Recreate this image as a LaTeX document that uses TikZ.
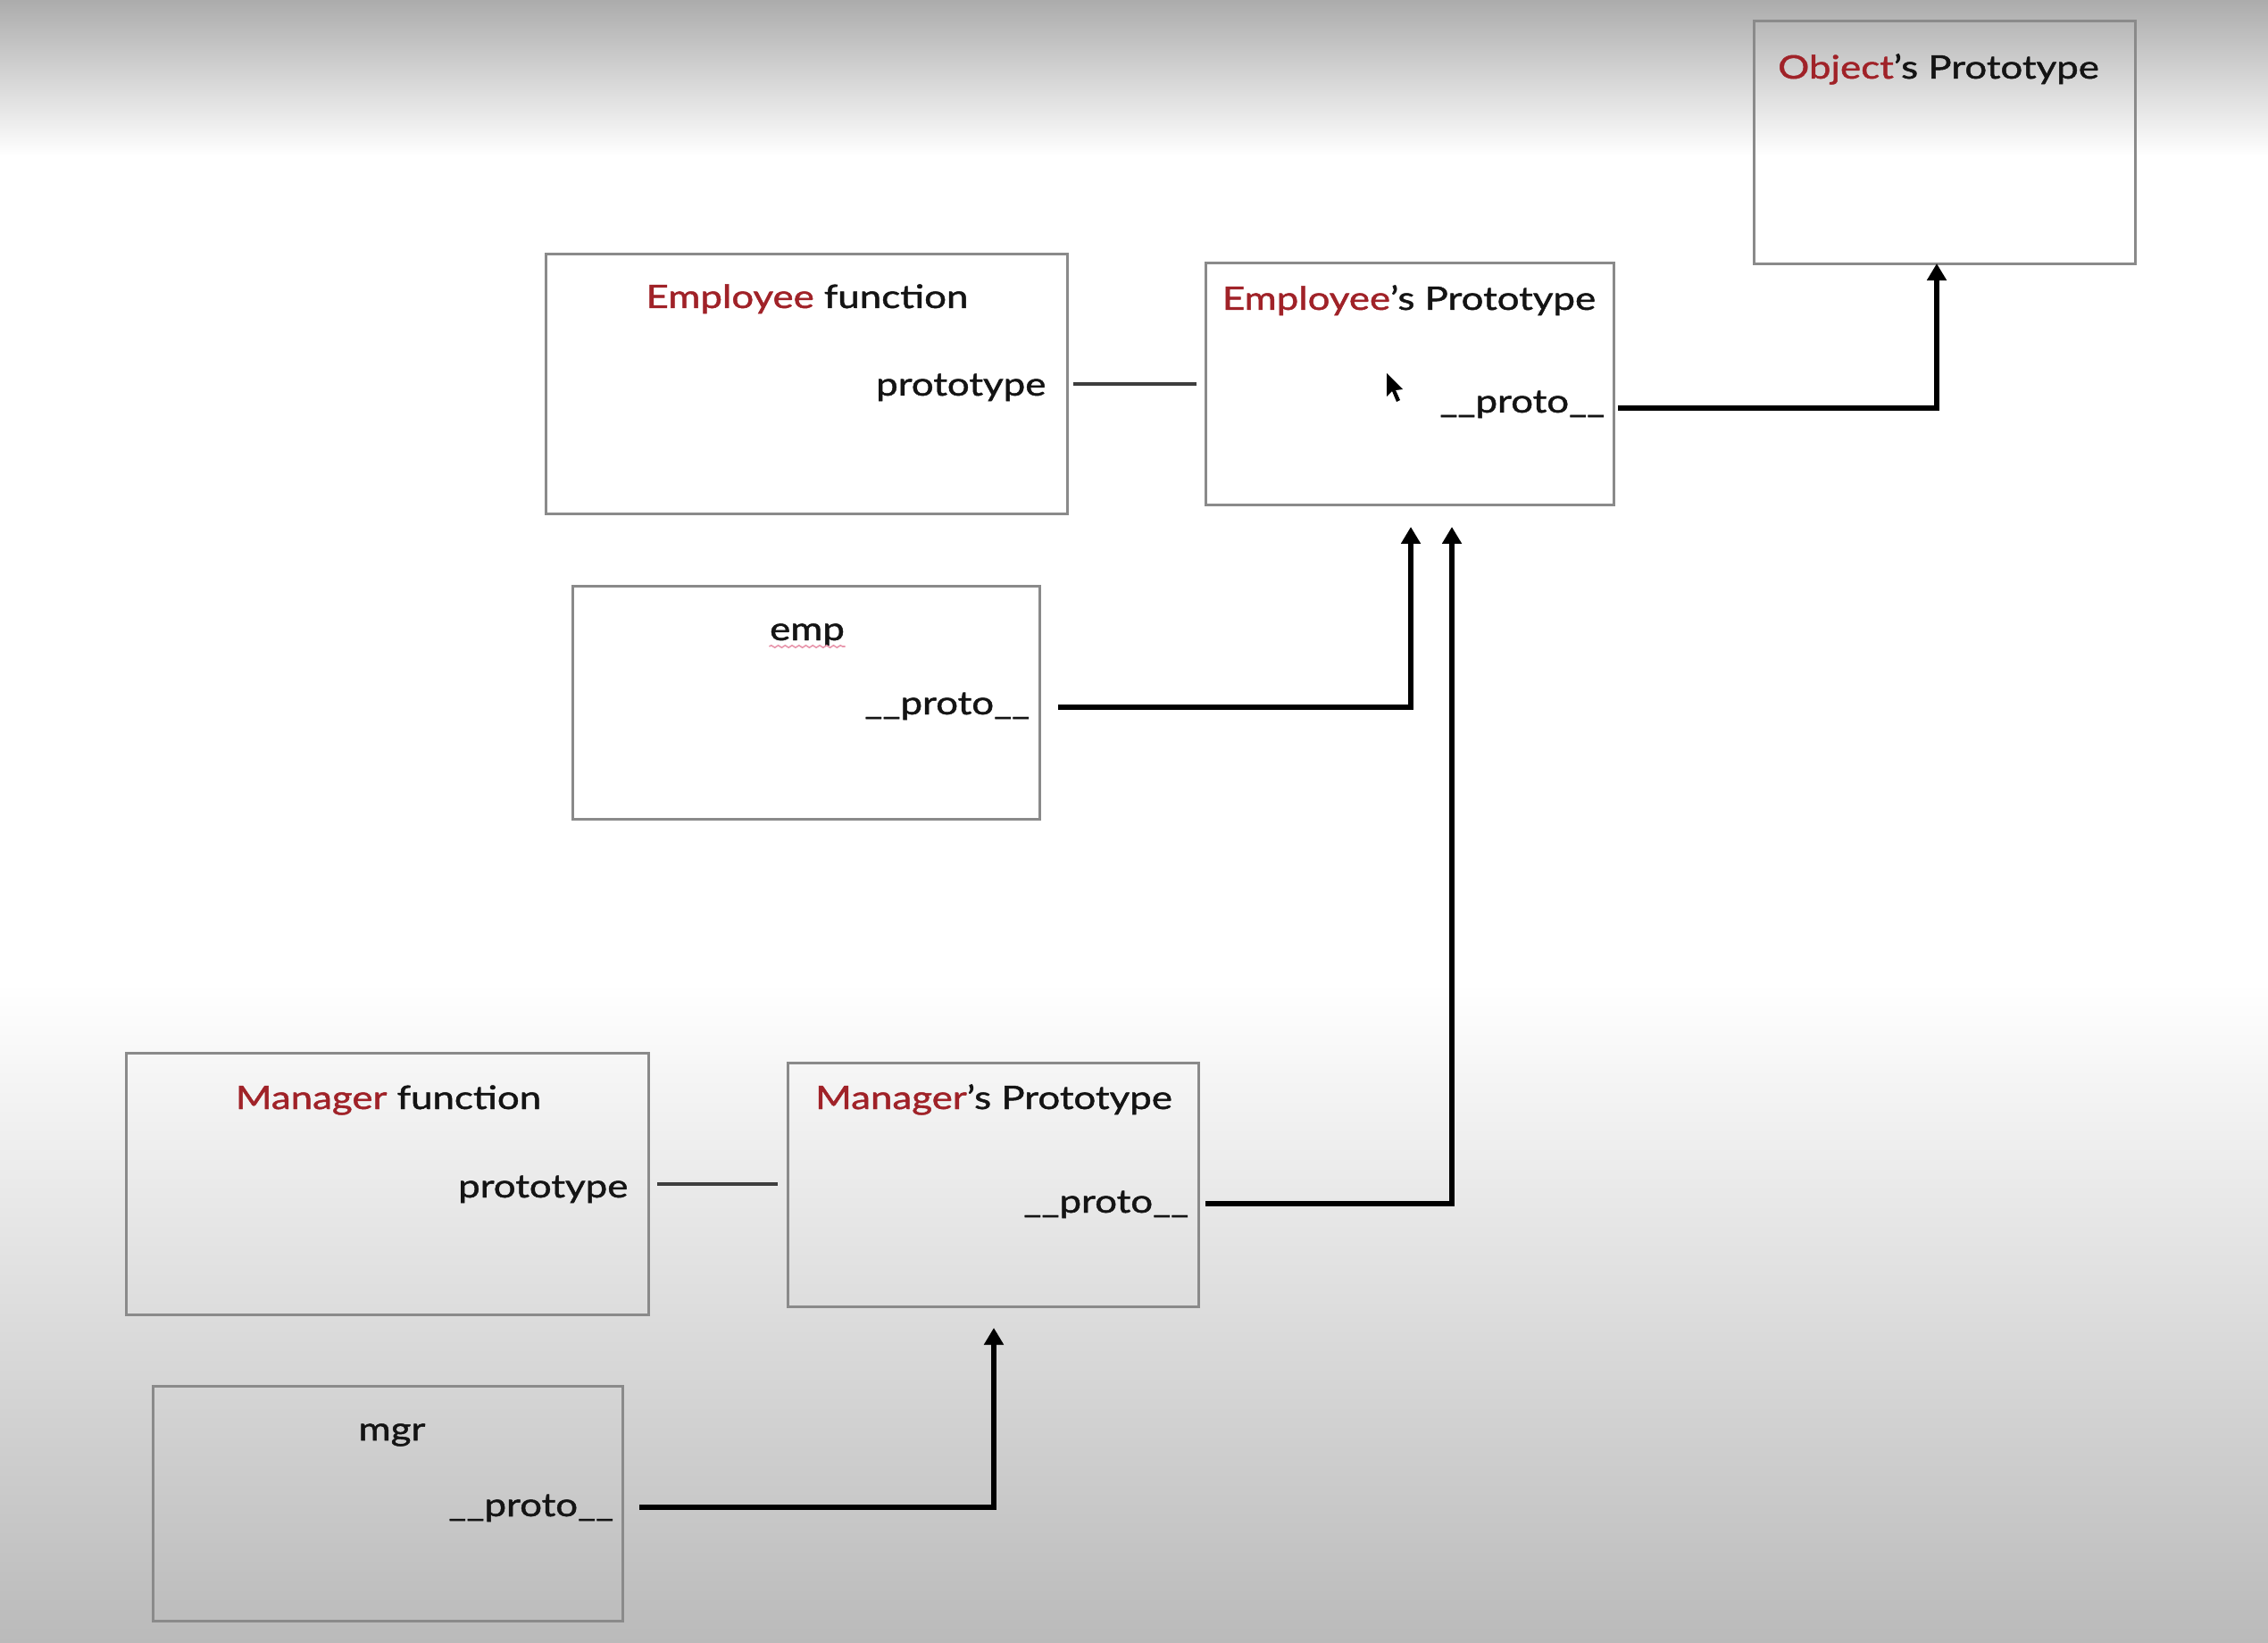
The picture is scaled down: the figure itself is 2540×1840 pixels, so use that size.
\documentclass[tikz,border=0pt]{standalone}
\usepackage{fontspec}
\setmainfont{Lato}[FakeStretch=1.21,FakeBold=1.3]
\usetikzlibrary{arrows.meta,decorations.pathmorphing}
\definecolor{keyred}{RGB}{160,34,40}
\definecolor{ink}{RGB}{20,20,20}
\definecolor{frame}{RGB}{138,138,138}
\definecolor{linkgray}{RGB}{62,62,62}
\definecolor{topgray}{RGB}{172,172,172}
\definecolor{botgray}{RGB}{186,186,186}
\begin{document}
\begin{tikzpicture}[x=0.01cm,y=-0.01cm,
  objbox/.style={draw=frame,line width=0.85pt,rectangle,inner sep=0pt,outer sep=0pt},
  txt/.style={text=ink,inner sep=0pt,font=\fontsize{10.3pt}{12.5pt}\selectfont},
  title/.style={txt,anchor=base},
  field/.style={txt,anchor=base east},
  link/.style={draw=linkgray,line width=1.15pt},
  protoarrow/.style={draw=black,line width=1.6pt,
    -{Triangle[width=6pt,length=5.4pt]}}]

% canvas with soft vertical fades at top and bottom
\useasboundingbox (0,0) rectangle (2540,1840);
\fill[white] (0,0) rectangle (2540,1840);
\shade[top color=topgray,bottom color=white] (0,0) rectangle (2540,175);
\shade[top color=white,bottom color=botgray] (0,1100) rectangle (2540,1840);

% object boxes
\node[objbox,minimum width=5.83cm,minimum height=2.90cm] (ef)  at (903.5,430) {};
\node[objbox,minimum width=4.56cm,minimum height=2.70cm] (ep)  at (1579,430) {};
\node[objbox,minimum width=4.26cm,minimum height=2.71cm] (op)  at (2178,159.5) {};
\node[objbox,minimum width=5.22cm,minimum height=2.60cm] (emp) at (903,787) {};
\node[objbox,minimum width=5.84cm,minimum height=2.92cm] (mf)  at (434,1326) {};
\node[objbox,minimum width=4.59cm,minimum height=2.72cm] (mp)  at (1112.5,1327) {};
\node[objbox,minimum width=5.25cm,minimum height=2.62cm] (mgr) at (434.5,1684) {};

% titles
\node[title] (eft)  at (904,345)  {\textcolor{keyred}{Employee} function};
\node[title] (ept)  at (1578,347) {\textcolor{keyred}{Employee}’s Prototype};
\node[title] (opt)  at (2171,88)  {\textcolor{keyred}{Object}’s Prototype};
\node[title] (empt) at (904,717)  {emp};
\node[title] (mft)  at (435,1242) {\textcolor{keyred}{Manager} function};
\node[title] (mpt)  at (1113,1242) {\textcolor{keyred}{Manager}’s Prototype};
\node[title] (mgrt) at (439,1613) {mgr};

% property names
\node[field] (efp)  at (1172,443)  {prototype};
\node[field] (epp)  at (1798,462)  {\_\_proto\_\_};
\node[field] (empp) at (1154,800)  {\_\_proto\_\_};
\node[field] (mfp)  at (704,1341)  {prototype};
\node[field] (mpp)  at (1332,1358) {\_\_proto\_\_};
\node[field] (mgrp) at (688,1698)  {\_\_proto\_\_};

% spell-check squiggle under "emp"
\draw[draw={rgb,255:red,232;green,150;blue,172},line width=0.45pt,decorate,
  decoration={snake,amplitude=0.35pt,segment length=2.2pt}]
  ([yshift=-0.07cm]empt.base west) -- ([yshift=-0.07cm]empt.base east);

% constructor.prototype links
\draw[link] ([xshift=0.07cm]ef.east) -- ([xshift=-0.11cm]ep.west |- ef.east);
\draw[link] ([xshift=0.10cm]mf.east) -- ([xshift=-0.12cm]mp.west |- mf.east);

% __proto__ chain
\coordinate (epOut)  at (1812,457);
\coordinate (empOut) at (1185,792);
\coordinate (mpOut)  at (1350,1348);
\coordinate (mgrOut) at (716,1688);
\coordinate (epInA)  at (1580,590);
\coordinate (epInB)  at (1626,590);
\coordinate (mpIn)   at (1113,1487);

\draw[protoarrow] (epOut)  -| ([xshift=-0.09cm]op.south);
\draw[protoarrow] (empOut) -| (epInA);
\draw[protoarrow] (mpOut)  -| (epInB);
\draw[protoarrow] (mgrOut) -| (mpIn);

% mouse pointer
\fill[black] (1553,418) -- (1553,444) -- (1559,438) -- (1564,450) -- (1568,448)
  -- (1563,437) -- (1571,436) -- cycle;
\end{tikzpicture}
\end{document}
